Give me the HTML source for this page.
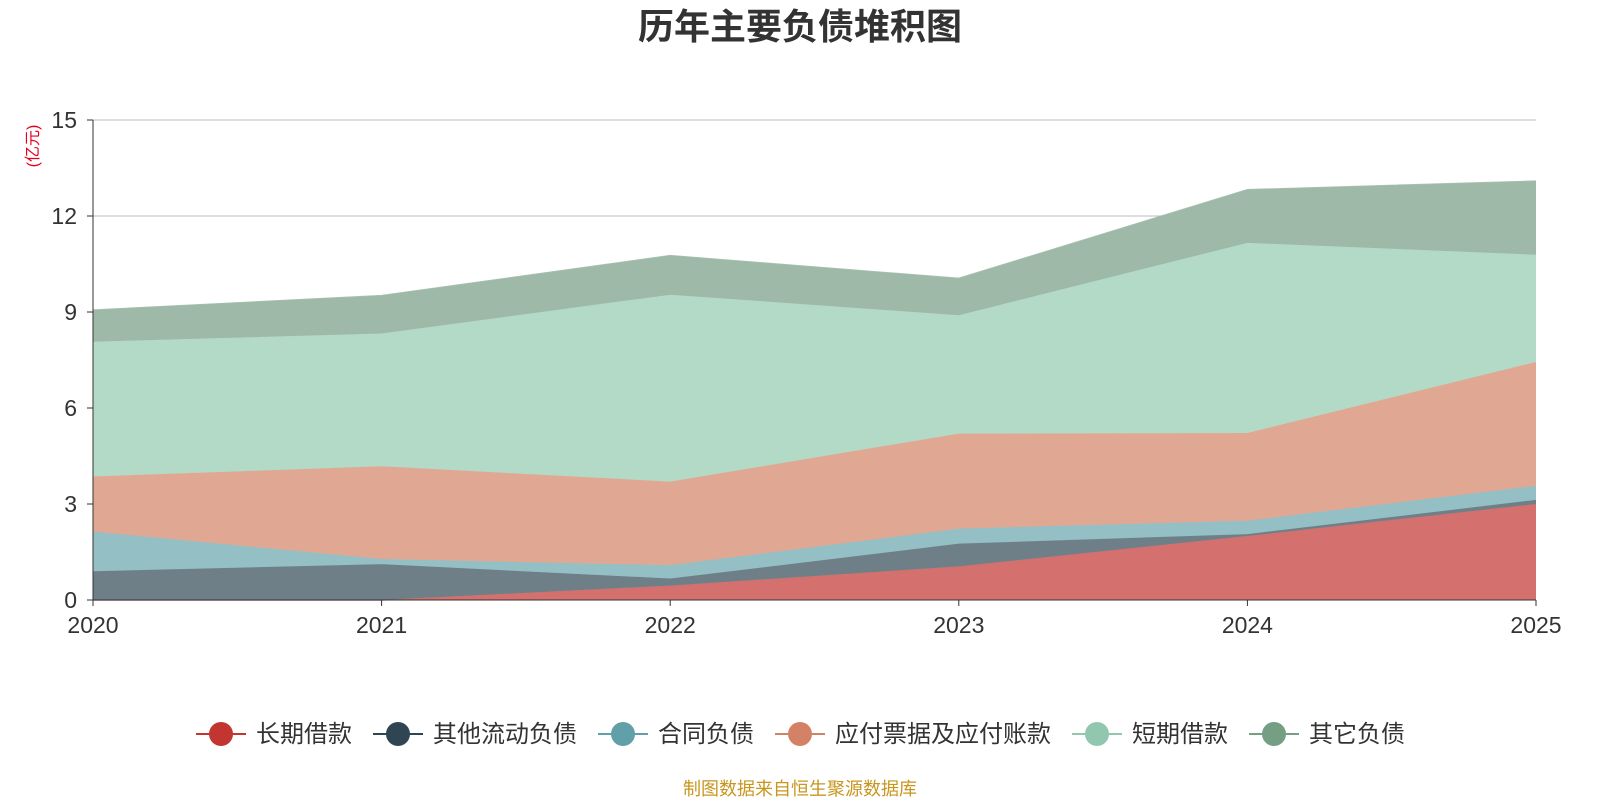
<!DOCTYPE html>
<html><head><meta charset="utf-8"><style>
body{margin:0;background:#fff;font-family:"Liberation Sans","Noto Sans CJK SC",sans-serif}
</style></head><body>
<svg id="c" width="1600" height="800" xmlns="http://www.w3.org/2000/svg">
<text x="800" y="39" text-anchor="middle" font-size="36" font-weight="bold" fill="#333" font-family="Liberation Sans,Noto Sans CJK SC,sans-serif">历年主要负债堆积图</text>
<text transform="translate(38,146) rotate(-90)" text-anchor="middle" font-size="16" fill="#e6001f" font-family="Liberation Sans,Noto Sans CJK SC,sans-serif">(亿元)</text>
<g id="grid"></g><g id="areas"></g><g id="axes"></g><g id="legend"></g>
<text x="800" y="795" text-anchor="middle" font-size="18" fill="#c8961e" font-family="Liberation Sans,Noto Sans CJK SC,sans-serif">制图数据来自恒生聚源数据库</text>
</svg>
<script>
const years=['2020','2021','2022','2023','2024','2025'];
const yTicks=[0,3,6,9,12,15];
const seriesNames=['长期借款','其他流动负债','合同负债','应付票据及应付账款','短期借款','其它负债'];
const longLoan=[0,0,0.45,1.05,2.0,3.0];
const otherCurrent=[0.9,1.12,0.22,0.71,0.06,0.13];
const contractLiab=[1.24,0.16,0.42,0.47,0.42,0.44];
const payables=[1.72,2.9,2.61,2.97,2.74,3.87];
const shortLoan=[4.21,4.15,5.84,3.7,5.94,3.35];
const otherLiab=[0.99,1.18,1.22,1.15,1.66,2.3];
const series=[longLoan,otherCurrent,contractLiab,payables,shortLoan,otherLiab];
const colors=['#c23531','#2f4554','#61a0a8','#d48265','#91c7ae','#749f83'];
const fills=['#d4706d','#6f7f88','#93bfc5','#e0a892','#b3d9c7','#9eb9a7'];
const NS='http://www.w3.org/2000/svg';
const X0=93,X1=1536,Y0=600,Y1=120;
const xs=i=>X0+(X1-X0)*i/(years.length-1);
const ys=v=>Y0-(Y0-Y1)*v/15;
function mk(t,a,p){const e=document.createElementNS(NS,t);for(const k in a)e.setAttribute(k,a[k]);p.appendChild(e);return e;}
const grid=document.getElementById('grid'),axes=document.getElementById('axes'),areas=document.getElementById('areas'),leg=document.getElementById('legend');
yTicks.forEach(v=>{
 if(v>0){const l=mk('line',{x1:X0,x2:X1,y1:ys(v),y2:ys(v),stroke:'#bbb','stroke-width':1},grid);
 
 }
 const t=mk('text',{x:X0-16,y:ys(v)+8,'text-anchor':'end','font-size':23,fill:'#333'},axes);t.textContent=v;
 
 
 mk('line',{x1:X0-6,x2:X0,y1:ys(v),y2:ys(v),stroke:'#333'},axes);
});
let cum=years.map(()=>0);
series.forEach((s,k)=>{
 const lo=cum.slice();cum=cum.map((c,i)=>c+s[i]);
 let d='M'+cum.map((v,i)=>xs(i)+','+ys(v)).join('L');
 for(let i=years.length-1;i>=0;i--)d+='L'+xs(i)+','+ys(lo[i]);
 const p=mk('path',{d:d+'Z',fill:fills[k],stroke:'none'},areas);
 
 
 const ln=mk('polyline',{points:cum.map((v,i)=>xs(i)+','+ys(v)).join(' '),fill:'none',stroke:fills[k],'stroke-width':1.5,opacity:0.9},areas);
 
 
});
mk('line',{x1:X0,x2:X0,y1:Y1,y2:Y0,stroke:'#333'},axes);
mk('line',{x1:X0,x2:X1,y1:Y0,y2:Y0,stroke:'#333'},axes);
years.forEach((y,i)=>{
 mk('line',{x1:xs(i),x2:xs(i),y1:Y0,y2:Y0+6,stroke:'#333'},axes);
 const t=mk('text',{x:xs(i),y:Y0+33,'text-anchor':'middle','font-size':23,fill:'#333'},axes);t.textContent=y;
 
 
});
let lx=196;
seriesNames.forEach((n,k)=>{
 const g=mk('g',{},leg);
 
 
 mk('line',{x1:lx,x2:lx+50,y1:734,y2:734,stroke:colors[k],'stroke-width':2},g);
 mk('circle',{cx:lx+25,cy:734,r:12,fill:colors[k]},g);
 const t=mk('text',{x:lx+60,y:742,'font-size':24,fill:'#333'},g);t.textContent=n;
 lx+=60+t.getComputedTextLength()+21;
});
</script>
</body></html>
